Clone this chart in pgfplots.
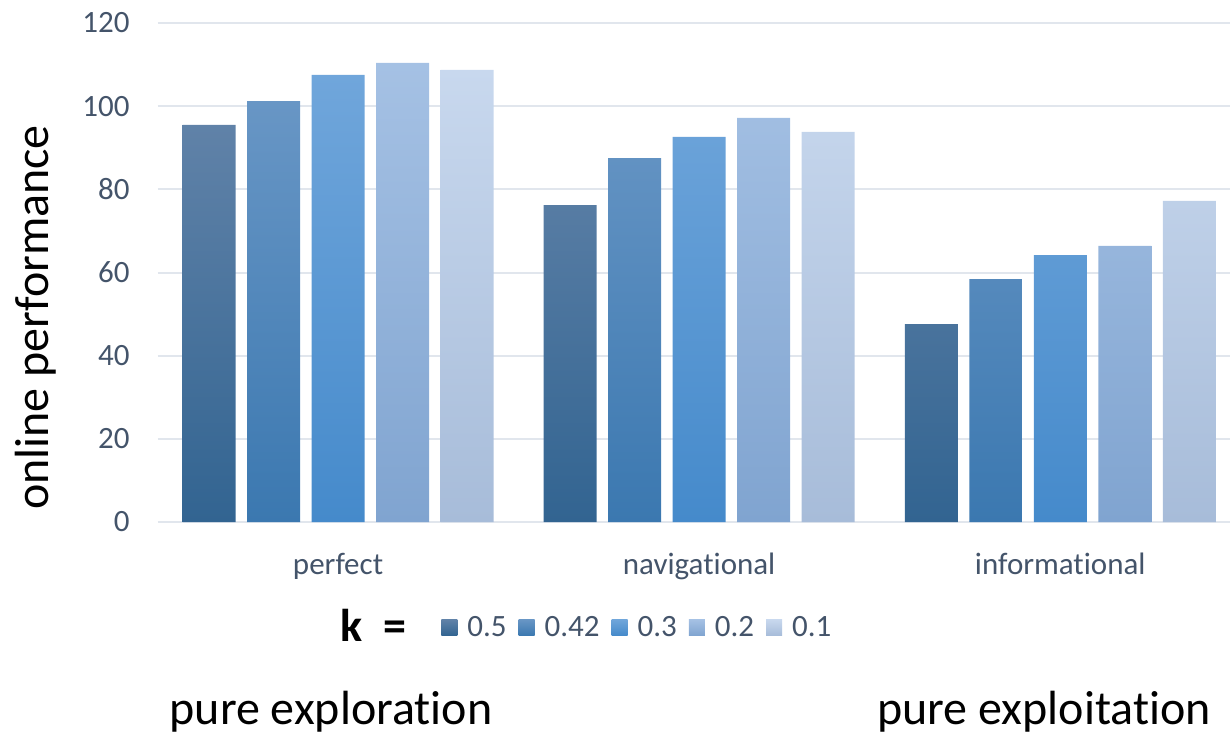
\documentclass[border=0pt]{standalone}
\usepackage{pgfplots}
\pgfplotsset{compat=1.18}
\usepackage{pgfplotstable}
\usepackage{fontspec}
\setmainfont{Carlito}[Ligatures=NoCommon]

\definecolor{txt}{HTML}{44546A}
\definecolor{gridc}{HTML}{E1E6ED}
\definecolor{aT}{HTML}{6082A8}\definecolor{aB}{HTML}{326491}
\definecolor{bT}{HTML}{6896C5}\definecolor{bB}{HTML}{3B78B0}
\definecolor{cT}{HTML}{70A6DB}\definecolor{cB}{HTML}{458ACB}
\definecolor{dT}{HTML}{A5C1E4}\definecolor{dB}{HTML}{80A4D0}
\definecolor{eT}{HTML}{C8D8EE}\definecolor{eB}{HTML}{A7BCD9}

% online performance per query type (0 perfect, 1 navigational, 2 informational)
\pgfplotstableread{
x   k05   k042  k03   k02   k01
0   95.5  101.2 107.5 110.4 108.7
1   76.2  87.5  92.6  97.2  93.8
2   47.6  58.4  64.2  66.4  77.2
}\perf

\begin{document}
\begin{tikzpicture}
\useasboundingbox (0,0) rectangle (615pt,367.5pt);
\begin{axis}[
  at={(78.75pt,106.5pt)}, anchor=south west,
  scale only axis, width=536.25pt, height=249.5pt,
  ybar=5.75pt, bar width=26.5pt,
  xmin=-0.5, xmax=2.47, ymin=0, ymax=120,
  ytick={0,20,...,120},
  xtick={0,1,2}, xticklabels={perfect,navigational,informational},
  /pgf/number format/assume math mode=true,
  axis line style={draw=none},
  tick style={draw=none},
  ymajorgrids, major grid style={gridc, line width=1pt},
  ticklabel style={font=\fontsize{15.5}{18}\selectfont, text=txt, inner sep=0pt},
  yticklabel style={anchor=east, xshift=-13.75pt},
  xticklabel style={anchor=base, yshift=-22pt},
  legend columns=5,
  legend style={at={(0.2643,-0.2114)}, anchor=west, draw=none, fill=none,
    inner sep=0pt, font=\fontsize{15.5}{18}\selectfont, text=txt,
    /tikz/every odd column/.append style={column sep=3pt},
    /tikz/every even column/.append style={column sep=4pt}},
  legend image code/.code={\path[#1,draw=none] (0pt,-4pt) rectangle (8pt,4pt);},
]
\addplot[draw=none, top color=aT, bottom color=aB] table[x=x,y=k05]{\perf};
\addplot[draw=none, top color=bT, bottom color=bB] table[x=x,y=k042]{\perf};
\addplot[draw=none, top color=cT, bottom color=cB] table[x=x,y=k03]{\perf};
\addplot[draw=none, top color=dT, bottom color=dB] table[x=x,y=k02]{\perf};
\addplot[draw=none, top color=eT, bottom color=eB] table[x=x,y=k01]{\perf};
\legend{0.5,0.42,0.3,0.2,0.1}
\end{axis}
\node[rotate=90, font=\fontsize{24}{28}\selectfont] at (18pt,208.75pt) {online performance};
\node[anchor=base west, inner sep=0pt, font=\bfseries\fontsize{23}{28}\selectfont] at (170pt,47pt) {k\hspace{0.45em}=};
\node[anchor=base, inner sep=0pt, font=\fontsize{24}{28}\selectfont] at (165.5pt,5.5pt) {pure exploration};
\node[anchor=base, inner sep=0pt, font=\fontsize{24}{28}\selectfont] at (522pt,5.5pt) {pure exploitation};
\end{tikzpicture}
\end{document}
